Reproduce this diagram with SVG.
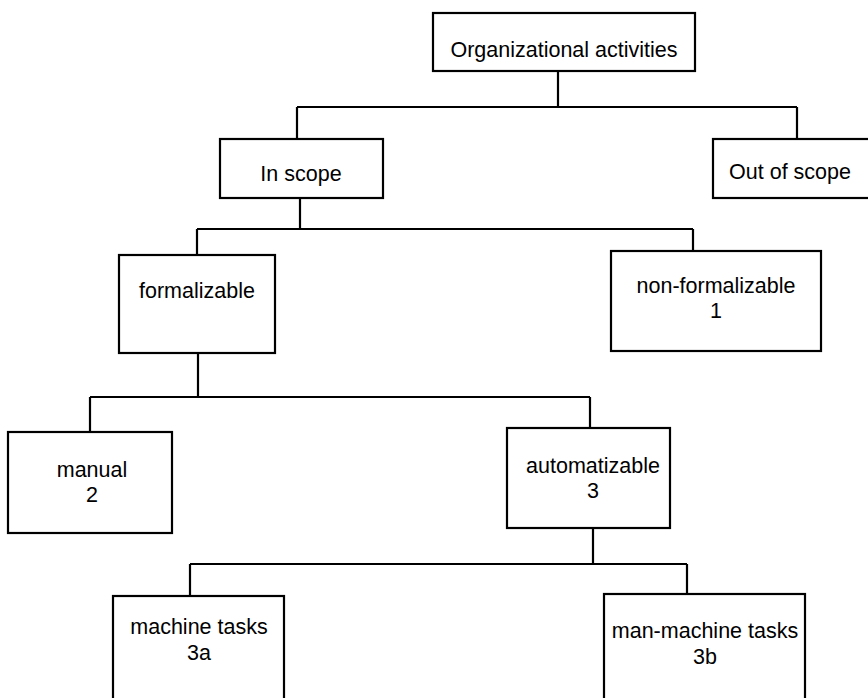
<svg xmlns="http://www.w3.org/2000/svg" width="868" height="698" viewBox="0 0 868 698">
  <style>
    .box { fill: #fff; stroke: #000; stroke-width: 2.2; }
    .lbl { font-family: "Liberation Sans", Arial, sans-serif; font-size: 21.5px; fill: #000; text-anchor: middle; }
    .wire { fill: none; stroke: #000; stroke-width: 2.2; }
  </style>
  <rect width="868" height="698" fill="#fff"/>

  <!-- connectors -->
  <g id="connectors" class="wire">
    <path d="M558 71 V107 M297 107 H797 M297 107 V139 M797 107 V139"/>
    <path d="M300 198 V229 M197 229 H693 M197 229 V255 M693 229 V251"/>
    <path d="M198 353 V397 M90 397 H590 M90 397 V432 M590 397 V428"/>
    <path d="M593 528 V564 M190 564 H687 M190 564 V596 M687 564 V594"/>
  </g>

  <g id="organizational-activities">
    <rect class="box" x="433" y="13" width="262" height="58"/>
    <text class="lbl" x="564" y="57">Organizational activities</text>
  </g>

  <g id="in-scope">
    <rect class="box" x="220" y="139" width="163" height="59"/>
    <text class="lbl" x="301" y="181">In scope</text>
  </g>

  <g id="out-of-scope">
    <rect class="box" x="713" y="139" width="170" height="59"/>
    <text class="lbl" x="790" y="179">Out of scope</text>
  </g>

  <g id="formalizable">
    <rect class="box" x="119" y="255" width="156" height="98"/>
    <text class="lbl" x="197" y="298">formalizable</text>
  </g>

  <g id="non-formalizable">
    <rect class="box" x="611" y="251" width="210" height="100"/>
    <text class="lbl" x="716" y="293">non-formalizable</text>
    <text class="lbl" x="716" y="318">1</text>
  </g>

  <g id="manual">
    <rect class="box" x="8" y="432" width="164" height="101"/>
    <text class="lbl" x="92" y="477">manual</text>
    <text class="lbl" x="92" y="502">2</text>
  </g>

  <g id="automatizable">
    <rect class="box" x="507" y="428" width="163" height="100"/>
    <text class="lbl" x="593" y="473">automatizable</text>
    <text class="lbl" x="593" y="498">3</text>
  </g>

  <g id="machine-tasks">
    <rect class="box" x="113" y="596" width="171" height="120"/>
    <text class="lbl" x="199" y="634">machine tasks</text>
    <text class="lbl" x="199" y="660">3a</text>
  </g>

  <g id="man-machine-tasks">
    <rect class="box" x="604" y="594" width="201" height="120"/>
    <text class="lbl" x="705" y="638">man-machine tasks</text>
    <text class="lbl" x="705" y="664">3b</text>
  </g>
</svg>
